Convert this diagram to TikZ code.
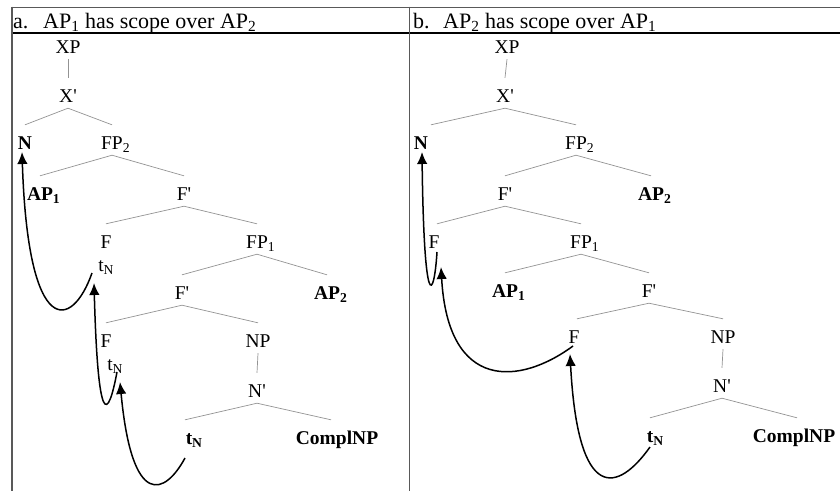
\documentclass[tikz,border=0pt]{standalone}
\usepackage{fontspec}
\setmainfont{Liberation Serif}
\usetikzlibrary{arrows.meta,calc}
\newcommand{\pr}{\textquotesingle}
\begin{document}
\begin{tikzpicture}[x=1pt,y=-1pt,
  lab/.style={font=\fontsize{19.5}{21}\selectfont, inner sep=0pt, text height=24pt, text depth=6pt, anchor=base},
  blab/.style={lab, font=\fontsize{19.5}{21}\selectfont\bfseries},
  br/.style={draw=gray!85, line width=0.7pt},
  mv/.style={draw=black, line width=1.5pt, -{Latex[length=12pt,width=10.5pt]}},
  frame/.style={draw=gray!70!black, line width=1.6pt},
  hd/.style={font=\fontsize{22}{24}\selectfont, inner sep=0pt, anchor=base west}]
\useasboundingbox (0,0) rectangle (840,491);
% frame
\draw[frame] (12,7.5) -- (840,7.5);
\draw[black, line width=1.5pt] (12,33) -- (840,33);
\draw[frame] (12,6.7) -- (12,491);
\draw[frame] (409.5,6.7) -- (409.5,491);
% headers
\node[hd] (ha) at (13,28) {\makebox[30pt][l]{a.}AP\textsubscript{1} has scope over AP\textsubscript{2}};
\node[hd] (hb) at (413,28) {\makebox[30pt][l]{b.}AP\textsubscript{2} has scope over AP\textsubscript{1}};
% ---------------- tree a
\node[lab] (XPa) at (68,53) {XP};
\node[lab] (Xa) at (68,102) {X\pr};
\node[lab] (Na) at (25,149) {\textbf{N}};
\node[lab] (FPtwoa) at (112,149) {FP\rlap{\textsubscript{2}}};
\node[blab] (APonea) at (40,200) {AP\rlap{\textsubscript{1}}};
\node[lab] (Fpa) at (184,200) {F\pr};
\node[lab] (Fa) at (106,248) {F};
\node[lab] (FPonea) at (257,248) {FP\rlap{\textsubscript{1}}};
\node[lab] (tNonea) at (101,271) {t\rlap{\textsubscript{N}}};
\node[lab] (Fpba) at (182,299) {F\pr};
\node[blab] (APtwoa) at (327,299) {AP\rlap{\textsubscript{2}}};
\node[lab] (Fba) at (106,347) {F};
\node[lab] (NPa) at (258,347) {NP};
\node[lab] (tNtwoa) at (110,370) {t\rlap{\textsubscript{N}}};
\node[lab] (Npa) at (257,397) {N\pr};
\node[blab] (tNthreea) at (189,444) {t\rlap{\textsubscript{N}}};
\node[blab] (Compla) at (337,444) {ComplNP};
\draw[br] (XPa.south) -- (Xa.north);
\draw[br] (Xa.south) -- (Na.north);
\draw[br] (Xa.south) -- (FPtwoa.north);
\draw[br] (FPtwoa.south) -- (APonea.north);
\draw[br] (FPtwoa.south) -- (Fpa.north);
\draw[br] (Fpa.south) -- (Fa.north);
\draw[br] (Fpa.south) -- (FPonea.north);
\draw[br] (FPonea.south) -- (Fpba.north);
\draw[br] (FPonea.south) -- (APtwoa.north);
\draw[br] (Fpba.south) -- (Fba.north);
\draw[br] (Fpba.south) -- (NPa.north);
\draw[br] (NPa.south) -- (Npa.north);
\draw[br] (Npa.south) -- ([xshift=-4pt]tNthreea.north);
\draw[br] (Npa.south) -- ([xshift=-6pt]Compla.north);
% movement arrows a
\draw[mv] ($(tNonea.base)+(-9,2)$) .. controls (72,330) and (28,340) .. ($(Na.base)+(-3,3)$);
\draw[mv] ($(tNtwoa.base)+(7,2)$) .. controls (108,420) and (98,430) .. ($(tNonea.base)+(-7,12)$);
\draw[mv] ($(tNthreea.base)+(-4,14)$) .. controls (165,495) and (132,510) .. ($(tNtwoa.base)+(10,12)$);
% ---------------- tree b
\node[lab] (XPb) at (507,53) {XP};
\node[lab] (Xb) at (505,102) {X\pr};
\node[lab] (Nb) at (421,149) {\textbf{N}};
\node[lab] (FPtwob) at (576,149) {FP\rlap{\textsubscript{2}}};
\node[lab] (Fpb) at (505,200) {F\pr};
\node[blab] (APtwob) at (651,200) {AP\rlap{\textsubscript{2}}};
\node[lab] (Fb) at (434,248) {F};
\node[lab] (FPoneb) at (581,248) {FP\rlap{\textsubscript{1}}};
\node[blab] (APoneb) at (505,297) {AP\rlap{\textsubscript{1}}};
\node[lab] (Fpbb) at (649,297) {F\pr};
\node[lab] (Fbb) at (574,343) {F};
\node[lab] (NPb) at (723,343) {NP};
\node[lab] (Npb) at (722,392) {N\pr};
\node[blab] (tNb) at (650,442) {t\rlap{\textsubscript{N}}};
\node[blab] (Complb) at (794,442) {ComplNP};
\draw[br] (XPb.south) -- (Xb.north);
\draw[br] (Xb.south) -- ([xshift=10pt]Nb.north);
\draw[br] (Xb.south) -- (FPtwob.north);
\draw[br] (FPtwob.south) -- (Fpb.north);
\draw[br] (FPtwob.south) -- (APtwob.north);
\draw[br] (Fpb.south) -- ([xshift=3pt]Fb.north);
\draw[br] (Fpb.south) -- (FPoneb.north);
\draw[br] (FPoneb.south) -- (APoneb.north);
\draw[br] (FPoneb.south) -- (Fpbb.north);
\draw[br] (Fpbb.south) -- ([xshift=3pt]Fbb.north);
\draw[br] (Fpbb.south) -- (NPb.north);
\draw[br] (NPb.south) -- (Npb.north);
\draw[br] (Npb.south) -- (tNb.north);
\draw[br] (Npb.south) -- ([xshift=3pt]Complb.north);
% movement arrows b
\draw[mv] ($(Fb.base)+(3,4)$) .. controls (434,300) and (424,315) .. ($(Nb.base)+(1,3)$);
\draw[mv] ($(Fbb.base)+(-1,3)$) .. controls (520,385) and (448,392) .. ($(Fb.base)+(7,19)$);
\draw[mv] ($(tNb.base)+(0,5)$) .. controls (618,492) and (578,505) .. ($(Fbb.base)+(-4,11)$);
\end{tikzpicture}
\end{document}
